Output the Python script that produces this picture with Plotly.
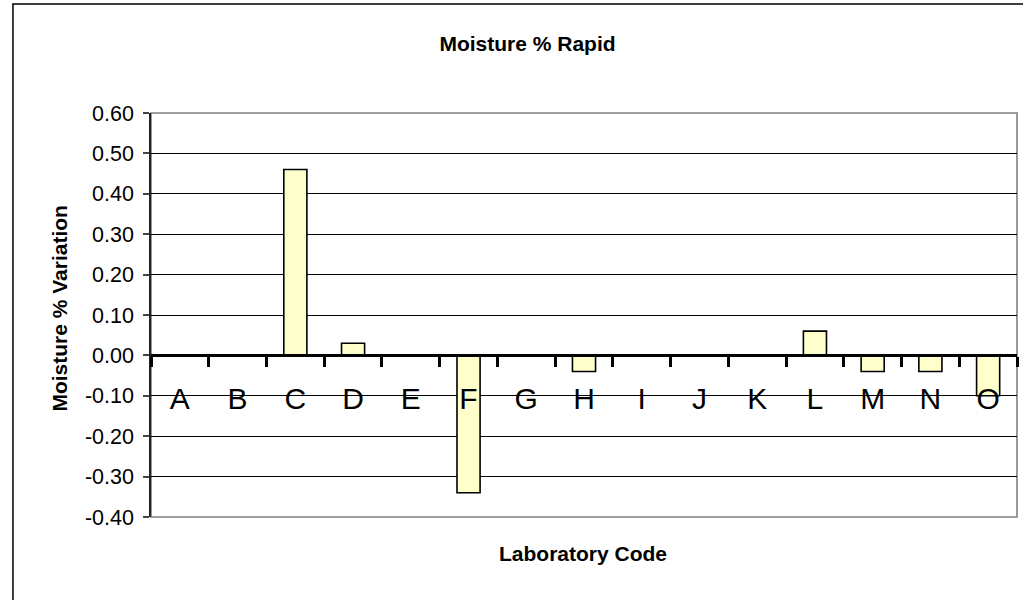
import plotly.graph_objects as go

labs = ["A", "B", "C", "D", "E", "F", "G", "H", "I", "J", "K", "L", "M", "N", "O"]
variation = [0.0, 0.0, 0.46, 0.03, 0.0, -0.34, 0.0, -0.04, 0.0, 0.0, 0.0, 0.06, -0.04, -0.04, -0.10]
ytick_vals = [-0.4, -0.3, -0.2, -0.1, 0.0, 0.1, 0.2, 0.3, 0.4, 0.5, 0.6]
ytick_text = ["-0.40", "-0.30", "-0.20", "-0.10", "0.00", "0.10", "0.20", "0.30", "0.40", "0.50", "0.60"]

W, H = 1023, 600
L, R, T, B = 151, 1016.7, 113, 516.7
pw, ph = R - L, B - T


def px(x):
    return (x - L) / pw


def py(y):
    return (B - y) / ph


font = "Liberation Sans, Arial, Helvetica, sans-serif"

fig = go.Figure()
fig.add_trace(go.Bar(
    x=labs, y=variation, width=0.4,
    marker=dict(color="#FFFFCC", line=dict(color="black", width=1.6)),
    showlegend=False,
))

fig.update_layout(
    width=W, height=H,
    margin=dict(l=L, r=W - R, t=T, b=H - B, pad=0),
    paper_bgcolor="white", plot_bgcolor="white",
    font=dict(family=font, color="black"),
    bargap=0.6,
    title=dict(text="<b>Moisture % Rapid</b>", x=527.5 / W, xanchor="center",
               y=1 - 44 / H, yanchor="middle", font=dict(size=21, family=font)),
    xaxis=dict(
        type="category", anchor="free", position=0.4,
        showline=True, linecolor="black", linewidth=3,
        ticks="outside", tickson="boundaries", ticklen=10, tickwidth=3, tickcolor="black",
        tickfont=dict(size=30, family=font), ticklabelstandoff=16,
        showgrid=False, zeroline=False,
    ),
    yaxis=dict(
        range=[-0.4, 0.6], tickvals=ytick_vals, ticktext=ytick_text,
        showline=True, linecolor="#222222", linewidth=1.5,
        ticks="outside", ticklen=6, tickwidth=1.5, tickcolor="#444444",
        tickfont=dict(size=21.5, family=font), ticklabelstandoff=5,
        showgrid=True, gridcolor="black", gridwidth=1,
        zeroline=False,
    ),
    shapes=[
        dict(type="rect", xref="paper", yref="paper", x0=0, x1=1, y0=0, y1=1,
             line=dict(color="#808080", width=1.6), layer="below"),
        dict(type="rect", xref="paper", yref="paper",
             x0=px(13), x1=px(1030), y0=py(610), y1=py(4),
             line=dict(color="black", width=1.5), layer="below"),
    ],
    annotations=[
        dict(text="<b>Laboratory Code</b>", xref="paper", yref="paper",
             x=px(582.5), y=py(553), xanchor="center", yanchor="middle",
             showarrow=False, font=dict(size=21, family=font)),
        dict(text="<b>Moisture % Variation</b>", xref="paper", yref="paper",
             x=px(60), y=py(307.5), xanchor="center", yanchor="middle", textangle=-90,
             showarrow=False, font=dict(size=21, family=font)),
    ],
)

fig.write_html(
    "out.html",
    config={"displayModeBar": False},
    post_script="document.body.style.margin='0';document.body.style.overflow='hidden';",
)
